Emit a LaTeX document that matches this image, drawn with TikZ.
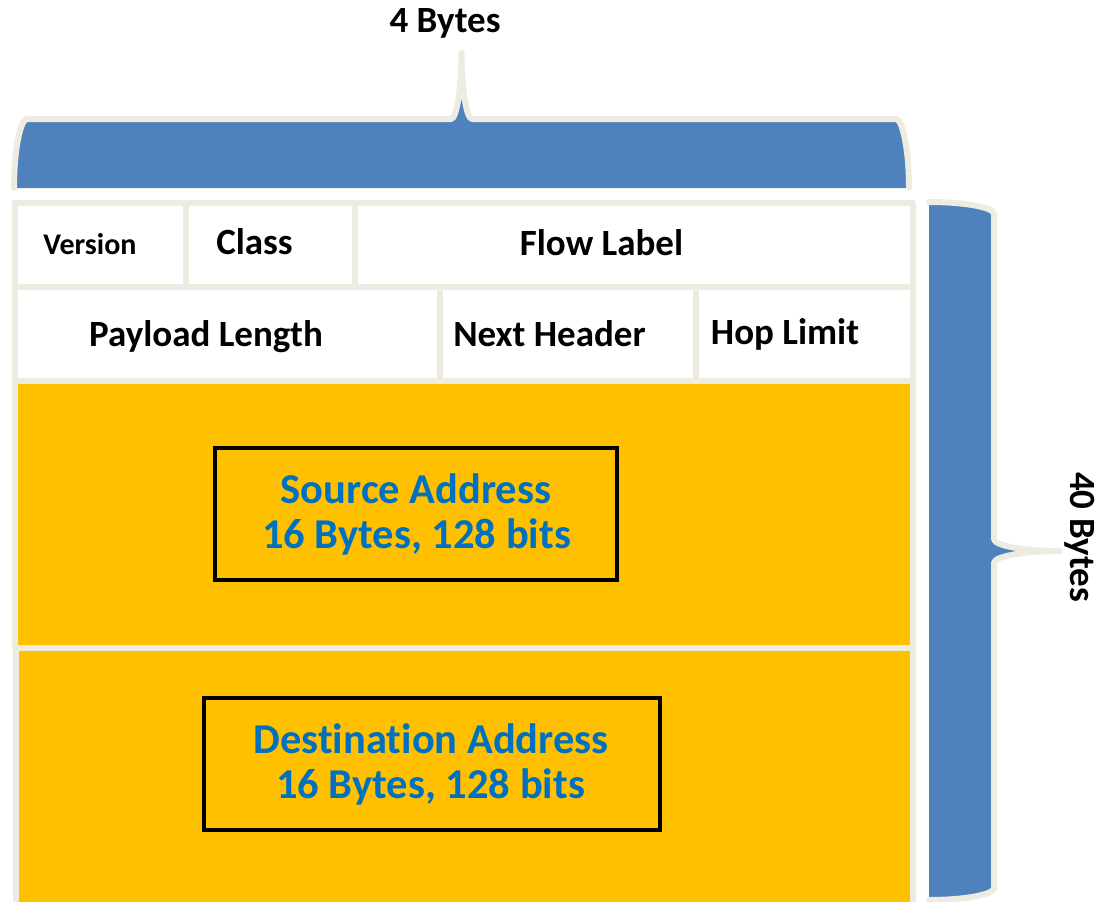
\documentclass[tikz,border=0pt]{standalone}
\usepackage{fontspec}
\setmainfont[Ligatures=NoCommon]{Carlito}
\definecolor{beige}{HTML}{EEECE1}
\definecolor{bblue}{HTML}{4F81BD}
\definecolor{gold}{HTML}{FFC000}
\definecolor{tblue}{HTML}{0070C0}
\begin{document}
\begin{tikzpicture}[x=1pt,y=-1pt,
  cellbox/.style={draw=beige,line width=6pt,line join=round},
  whitecell/.style={cellbox,fill=white},
  goldcell/.style={cellbox,fill=gold},
  braceline/.style={draw=beige,line width=6pt,line cap=round,line join=round},
  lab/.style={font={\fontsize{37}{44}\selectfont\bfseries},anchor=base,inner sep=0pt,text=black},
  smalllab/.style={lab,font={\fontsize{30}{36}\selectfont\bfseries}},
  addrlab/.style={font={\fontsize{42.5}{46}\selectfont\bfseries},anchor=base,inner sep=0pt,text=tblue},
  addrbox/.style={draw=black,line width=3.5pt}]
\useasboundingbox (0,0) rectangle (1111,902);
\clip (0,0) rectangle (1111,902);

% top brace
\fill[bblue] (14,188) .. controls (14,150) and (20.4,119) .. (27,119) -- (451,119)
  .. controls (456.5,119) and (461.5,88) .. (461.5,53)
  .. controls (461.5,88) and (466.5,119) .. (472,119) -- (896,119)
  .. controls (902.6,119) and (909,150) .. (909,188) -- cycle;
\draw[braceline] (14,188) .. controls (14,150) and (20.4,119) .. (27,119) -- (451,119)
  .. controls (456.5,119) and (461.5,88) .. (461.5,53)
  .. controls (461.5,88) and (466.5,119) .. (472,119) -- (896,119)
  .. controls (902.6,119) and (909,150) .. (909,188);

% right brace
\fill[bblue] (929,202) .. controls (965,202) and (994,207.4) .. (994,214) -- (994,539)
  .. controls (994,545.6) and (1024,551) .. (1060,551)
  .. controls (1024,551) and (994,556.4) .. (994,563) -- (994,888)
  .. controls (994,894.6) and (965,900) .. (929,900) -- cycle;
\draw[braceline] (929,202) .. controls (965,202) and (994,207.4) .. (994,214) -- (994,539)
  .. controls (994,545.6) and (1024,551) .. (1060,551)
  .. controls (1024,551) and (994,556.4) .. (994,563) -- (994,888)
  .. controls (994,894.6) and (965,900) .. (929,900);

% table cells
\draw[whitecell] (14.5,203) rectangle (186,287);
\draw[whitecell] (186,203) rectangle (355,287);
\draw[whitecell] (355,203) rectangle (913,287);
\draw[whitecell] (14.5,287) rectangle (440,381);
\draw[whitecell] (440,287) rectangle (696,381);
\draw[whitecell] (696,287) rectangle (913,381);
\draw[goldcell] (14.5,381) rectangle (913,648);
\draw[goldcell] (15.5,648) rectangle (913,920);

% address boxes
\draw[addrbox] (215,448) rectangle (617,580);
\draw[addrbox] (204,698) rectangle (660,830);

% labels
\node[lab] (fourbytes) at (445,32) {4 Bytes};
\node[smalllab] (version) at (90,254) {Version};
\node[lab] (class) at (254.5,254) {Class};
\node[lab] (flow) at (601.5,255) {Flow Label};
\node[lab] (payload) at (206,346) {Payload Length};
\node[lab] (next) at (549.5,346) {Next Header};
\node[lab] (hop) at (785,344) {Hop Limit};
\node[addrlab] (src1) at (416,503) {Source Address};
\node[addrlab] (src2) at (416.5,548) {16 Bytes, 128 bits};
\node[addrlab] (dst1) at (431,753) {Destination Address};
\node[addrlab] (dst2) at (430.5,798) {16 Bytes, 128 bits};
\node[lab,rotate=-90] (fortybytes) at (1070,537) {40 Bytes};
\end{tikzpicture}
\end{document}
